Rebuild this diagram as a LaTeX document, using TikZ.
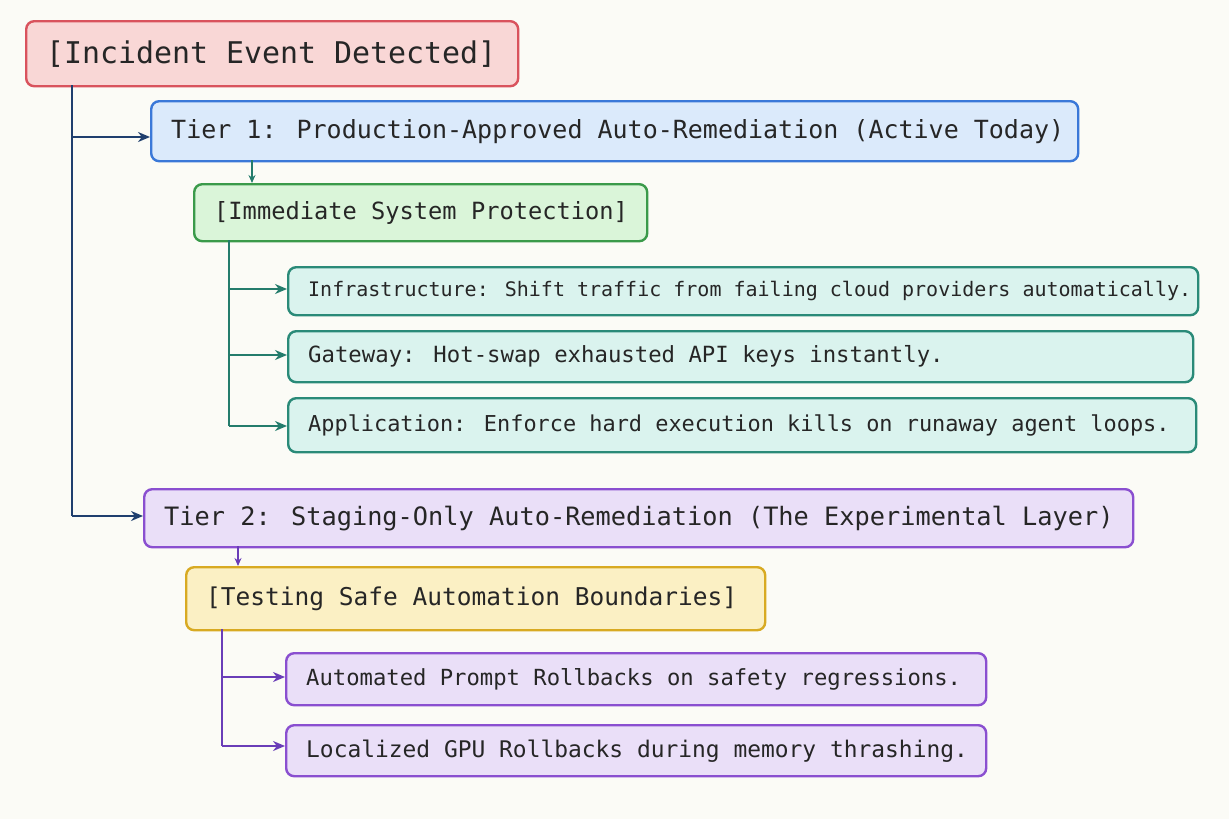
\documentclass[tikz,border=0pt]{standalone}
\usepackage{fontspec}
\setmainfont{DejaVu Sans Mono}
\usetikzlibrary{arrows.meta}
\definecolor{bg}{HTML}{FBFBF6}
\definecolor{redB}{HTML}{D9535D}\definecolor{redF}{HTML}{F9D7D6}
\definecolor{bluB}{HTML}{3A78D8}\definecolor{bluF}{HTML}{DBEAFB}
\definecolor{grnB}{HTML}{3A9A4A}\definecolor{grnF}{HTML}{DAF5D9}
\definecolor{tealB}{HTML}{2A8A78}\definecolor{tealF}{HTML}{DAF3EE}
\definecolor{purB}{HTML}{8A4FD0}\definecolor{purF}{HTML}{EADFF8}
\definecolor{yelB}{HTML}{D8AA22}\definecolor{yelF}{HTML}{FBF0C4}
\definecolor{navy}{HTML}{1F3F6E}\definecolor{tealL}{HTML}{247C6C}\definecolor{purL}{HTML}{6A3DB8}
\tikzset{
 box/.style={draw, line width=2.4pt, rounded corners=8pt, anchor=north west, inner sep=0pt},
 lbl/.style={anchor=west, inner sep=0pt, text=black!85},
 conn/.style={line width=2.4pt, -{Stealth[length=12pt,width=10pt]}},
 line/.style={line width=2.4pt}
}
\newcommand{\bx}[9]{\node[box,draw=#1,fill=#2,minimum width=#5pt,minimum height=#6pt] (#7) at (#3pt,-#4pt) {};
 \node[lbl,font=\fontsize{#8}{#8}\selectfont] (#7t) at ([xshift=21pt]#7.west) {#9};}
\begin{document}
\begin{tikzpicture}[x=1pt,y=1pt]
\fill[bg] (0,0) rectangle (1229,-819);
\useasboundingbox (0,0) rectangle (1229,-819);
\bx{redB}{redF}{25}{20}{492}{65}{inc}{29.9}{[Incident Event Detected]}
\bx{bluB}{bluF}{150}{100}{927}{60}{t1}{25}{Tier 1: Production-Approved Auto-Remediation (Active Today)}
\bx{grnB}{grnF}{193}{183}{453}{57}{imm}{23.7}{[Immediate System Protection]}
\bx{tealB}{tealF}{287}{266}{910}{48}{inf}{20}{Infrastructure: Shift traffic from failing cloud providers automatically.}
\bx{tealB}{tealF}{287}{330}{905}{51}{gw}{22.3}{Gateway: Hot-swap exhausted API keys instantly.}
\bx{tealB}{tealF}{287}{397}{908}{54}{app}{21.9}{Application: Enforce hard execution kills on runaway agent loops.}
\bx{purB}{purF}{143}{488}{989}{58}{t2}{25.3}{Tier 2: Staging-Only Auto-Remediation (The Experimental Layer)}
\bx{yelB}{yelF}{185}{566}{579}{63}{tst}{24.5}{[Testing Safe Automation Boundaries]}
\bx{purB}{purF}{285}{652}{700}{52}{apr}{22.2}{Automated Prompt Rollbacks on safety regressions.}
\bx{purB}{purF}{285}{724}{700}{51}{gpu}{22.9}{Localized GPU Rollbacks during memory thrashing.}
% navy trunk
\coordinate (n0) at (72,-85); \coordinate (n1) at (72,-137); \coordinate (n2) at (72,-516);
\draw[line,navy] (n0) -- (n2);
\draw[conn,navy] (n1) -- (t1.west |- n1);
\draw[conn,navy] (n2) -- (t2.west |- n2);
\draw[conn,tealL,line width=1.6pt,-{Stealth[length=8pt,width=7pt]}] (252,-160) -- (252,-183);
\draw[conn,purL,line width=1.6pt,-{Stealth[length=8pt,width=7pt]}] (238,-546) -- (238,-566);
% teal branch
\coordinate (g0) at (229,-240); \coordinate (g1) at (229,-289); \coordinate (g2) at (229,-355); \coordinate (g3) at (229,-426);
\draw[line,tealL] (g0) -- (g3);
\draw[conn,tealL] (g1) -- (inf.west |- g1);
\draw[conn,tealL] (g2) -- (gw.west |- g2);
\draw[conn,tealL] (g3) -- (app.west |- g3);
% purple branch
\coordinate (p0) at (222,-629); \coordinate (p1) at (222,-677); \coordinate (p2) at (222,-746);
\draw[line,purL] (p0) -- (p2);
\draw[conn,purL] (p1) -- (apr.west |- p1);
\draw[conn,purL] (p2) -- (gpu.west |- p2);
\end{tikzpicture}
\end{document}
